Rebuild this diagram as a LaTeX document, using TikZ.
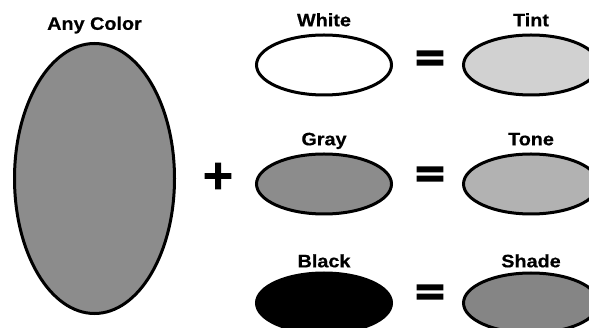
\documentclass[tikz,border=0pt]{standalone}
\usepackage{fontspec}
\setmainfont{Liberation Sans}
\newfontfamily\etiquetafont[FakeStretch=1.1, FakeBold=0.5]{Liberation Sans Bold}
\newfontfamily\signofont[FakeBold=3]{DejaVu Sans Bold}
\usetikzlibrary{positioning,shapes.geometric}
\definecolor{GrisBase}{gray}{0.55}
\definecolor{GrisTinte}{gray}{0.82}
\definecolor{GrisTono}{gray}{0.70}
\definecolor{GrisSombra}{gray}{0.52}
\tikzset{
  mancha/.style={ellipse, draw=black, line width=3pt, fill=#1,
    inner sep=0pt, minimum width=135pt, minimum height=60pt},
  mancha/.default=white,
  etiqueta/.style={font=\etiquetafont\fontsize{18}{21}\selectfont,
    inner sep=0pt, text depth=0pt},
  signo/.style={font=\signofont\fontsize{41}{41}\selectfont, inner sep=0pt},
}
\begin{document}
\begin{tikzpicture}[x=1pt, y=-1pt]
    \useasboundingbox (0,0) rectangle (589,328);
    % color de partida
    \node[mancha=GrisBase, minimum width=160pt, minimum height=270pt] (base) at (94.5,178.5) {};
    \node[etiqueta, above=12pt of base] (lbase) {Any Color};
    % mezclas
    \node[mancha=white] (blanco) at (324,65) {};
    \node[mancha=GrisBase, below=56pt of blanco] (gris) {};
    \node[mancha=black, below=56pt of gris] (negro) {};
    \node[etiqueta, above=7pt of blanco] (lblanco) {White};
    \node[etiqueta, above=7pt of gris] (lgris) {Gray};
    \node[etiqueta, above=4pt of negro] (lnegro) {Black};
    % resultados
    \node[mancha=GrisTinte, right=69pt of blanco] (tinte) {};
    \node[mancha=GrisTono, right=69pt of gris] (tono) {};
    \node[mancha=GrisSombra, right=69pt of negro] (sombra) {};
    \node[etiqueta, above=7pt of tinte] (ltinte) {Tint};
    \node[etiqueta, above=7pt of tono] (ltono) {Tone};
    \node[etiqueta, above=4pt of sombra] (lsombra) {Shade};
    % signos
    \node[signo] (mas) at (218,176) {+};
    \node[signo] (igual1) at (430,61) {=};
    \node[signo] (igual2) at (430,177) {=};
    \node[signo] (igual3) at (430,295) {=};
\end{tikzpicture}
\end{document}
